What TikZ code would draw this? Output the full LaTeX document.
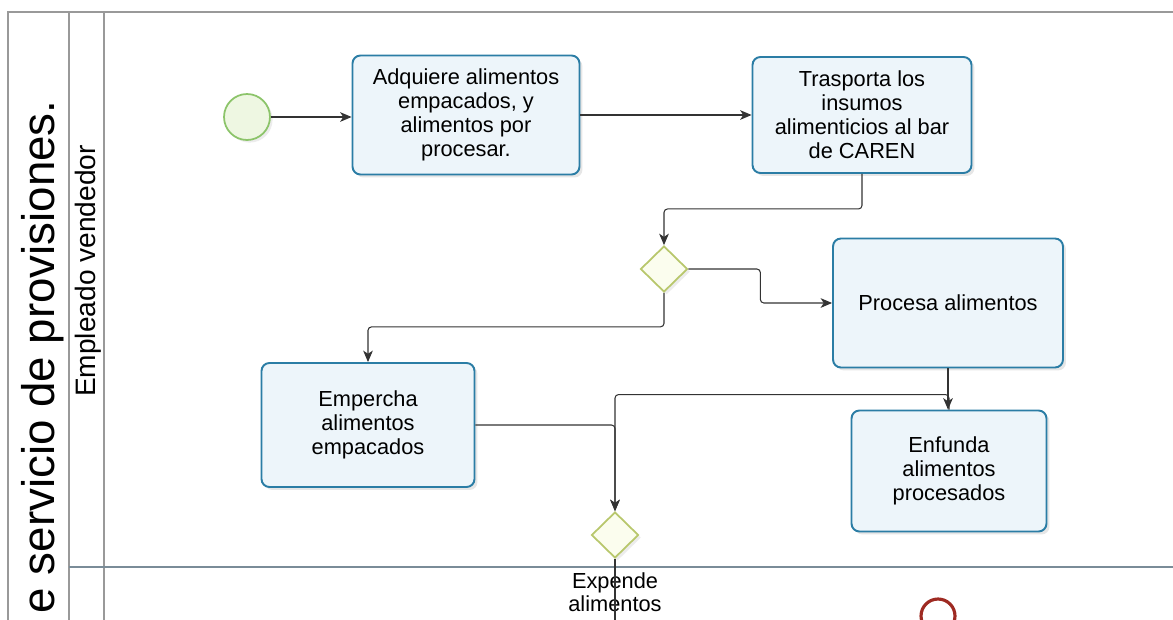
\documentclass[tikz,border=0pt]{standalone}
\usepackage{fontspec}
\setmainfont{Liberation Sans}
\usetikzlibrary{shapes.geometric,arrows.meta,shadows}

\definecolor{tareaborde}{HTML}{2B7DA5}
\definecolor{tareafondo}{HTML}{EDF5FA}
\definecolor{inicioborde}{HTML}{8CC46A}
\definecolor{iniciofondo}{HTML}{EEF7E2}
\definecolor{compuertaborde}{HTML}{B8C76C}
\definecolor{compuertafondo}{HTML}{FBFDEE}
\definecolor{finborde}{HTML}{9E2A22}
\definecolor{linea}{HTML}{333333}
\definecolor{carril}{HTML}{7A8C98}

\tikzset{
  tarea/.style={rectangle,
      rounded corners=4.5pt,
      draw=tareaborde,
      line width=1.1pt,
      fill=tareafondo,
      drop shadow={opacity=0.2, shadow xshift=1.7pt, shadow yshift=-1.7pt},
      align=center,
      inner sep=0pt,
      font=\fontsize{12.4}{13.6}\selectfont},
  inicio/.style={circle, draw=inicioborde, line width=1pt, fill=iniciofondo,
      minimum size=0.92cm, inner sep=0pt,
      drop shadow={opacity=0.15, shadow xshift=1.5pt, shadow yshift=-1.5pt}},
  compuerta/.style={diamond, draw=compuertaborde, line width=1pt, fill=compuertafondo,
      minimum width=0.94cm, minimum height=0.92cm, inner sep=0pt,
      drop shadow={opacity=0.15, shadow xshift=1.5pt, shadow yshift=-1.5pt}},
  fin/.style={circle, draw=finborde, line width=1.8pt, fill=white,
      minimum size=0.68cm, inner sep=0pt},
  flujo/.style={draw=linea, line width=0.6pt, rounded corners=2pt,
      -{Stealth[length=6.5pt, width=5.5pt, inset=1.8pt]}},
  marco/.style={draw=gray!80, line width=0.6pt}
}

\begin{document}
\begin{tikzpicture}[x=0.02cm, y=-0.02cm]
\useasboundingbox (0,0) rectangle (1173,619);

% piscina y carril
\draw[marco] (8,630) -- (8,12) -- (1180,12);
\draw[marco] (69,12) -- (69,630);
\draw[marco] (104,12) -- (104,630);
\draw[marco, draw=carril] (69,567) -- (1180,567);
\node[rotate=90, anchor=east, inner sep=0pt, font=\fontsize{26}{30}\selectfont] (piscina) at (43,100) {e servicio de provisiones.};
\node[rotate=90, inner sep=0pt, font=\fontsize{16}{19}\selectfont] (vendedor) at (88,271) {Empleado vendedor};

% eventos, tareas y compuertas
\node[inicio] (inicio) at (247,117) {};
\node[tarea, minimum width=4.54cm, minimum height=2.38cm] (adquiere) at (466,115)
  {Adquiere alimentos\\empacados, y\\alimentos por\\procesar.};
\node[tarea, minimum width=4.38cm, minimum height=2.32cm] (trasporta) at (862,115)
  {Trasporta los\\insumos\\alimenticios al bar\\de CAREN};
\node[compuerta] (decide) at (664,269) {};
\node[tarea, minimum width=4.6cm, minimum height=2.58cm] (procesa) at (948,303)
  {Procesa alimentos};
\node[tarea, minimum width=4.26cm, minimum height=2.48cm] (empercha) at (368,425)
  {Empercha\\alimentos\\empacados};
\node[tarea, minimum width=3.9cm, minimum height=2.42cm] (enfunda) at (949,471)
  {Enfunda\\alimentos\\procesados};
\node[compuerta] (une) at (615,535) {};
\coordinate (abajo) at (615,640);
\node[fin] (fin) at (938,616) {};

% flujos
\draw[flujo] (inicio) -- (inicio -| adquiere.west);
\draw[flujo] (adquiere) -- (trasporta);
\draw[flujo] (trasporta.south) -- ++(0,35) -| (decide.north);
\draw[flujo] (decide.east) -- ++(72,0) |- (procesa.west);
\draw[flujo] (decide.south) -- ++(0,34) -| (empercha.north);
\draw[flujo] (procesa.south) -- (procesa.south |- enfunda.north);
\draw[flujo] (enfunda.north) -- ++(0,-15) -| (une.north);
\draw[flujo] (empercha.east) -| (une.north);
\node[align=center, inner sep=0pt, font=\fontsize{12.4}{13}\selectfont] (expende) at (615,592) {Expende\\alimentos};
\draw[draw=linea, line width=0.6pt] (une.south) -- (abajo);
\end{tikzpicture}
\end{document}
